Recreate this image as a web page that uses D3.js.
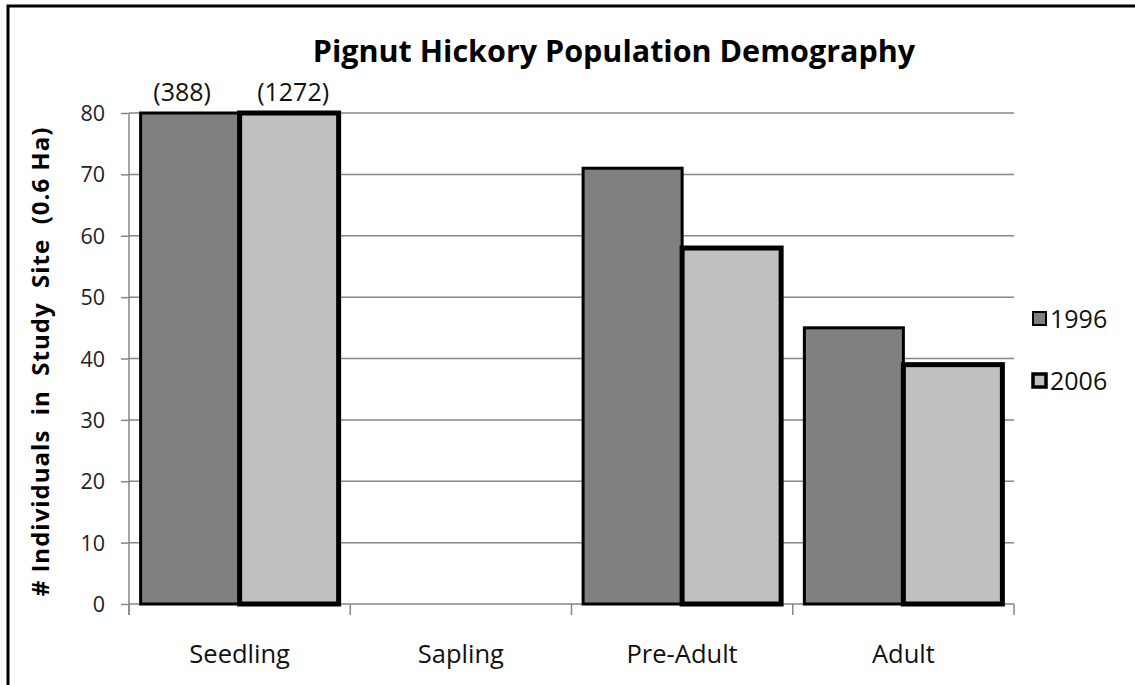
<!DOCTYPE html>
<html>
<head>
<meta charset="utf-8">
<script src="https://cdn.jsdelivr.net/npm/d3@7"></script>
<style>
  html, body { margin: 0; padding: 0; background: #fff; }
  svg { display: block; }
  text { font-family: "Open Sans", "Noto Sans", sans-serif; }
</style>
</head>
<body>
<svg id="chart" width="1135" height="685"></svg>
<script>
const categories = ["Seedling", "Sapling", "Pre-Adult", "Adult"];
const seriesNames = ["1996", "2006"];
const values1996 = [388, 0, 71, 45];
const values2006 = [1272, 0, 58, 39];
const yTicks = [0, 10, 20, 30, 40, 50, 60, 70, 80];
const titleText = "Pignut Hickory Population Demography";
const yLabelText = "# Individuals  in  Study  Site  (0.6 Ha)";

const fills = { "1996": "#808080", "2006": "#c0c0c0" };
const strokeW = { "1996": 3, "2006": 5 };

const svg = d3.select("#chart");
const plot = { left: 129, right: 1014, top: 113, bottom: 604 };
const yMax = 80;

// outer frame (top and left edges visible)
svg.append("rect")
  .attr("x", 8).attr("y", 6).attr("width", 1300).attr("height", 900)
  .attr("fill", "none").attr("stroke", "#000").attr("stroke-width", 3);

const y = d3.scaleLinear().domain([0, yMax]).range([plot.bottom, plot.top]);
const x0 = d3.scaleBand().domain(categories).range([plot.left, plot.right])
  .paddingInner(0.105).paddingOuter(0.0525);
const x1 = d3.scaleBand().domain(seriesNames).range([0, x0.bandwidth()]).padding(0);

// gridlines
svg.append("g").selectAll("line").data(yTicks.filter(d => d > 0)).join("line")
  .attr("x1", plot.left).attr("x2", plot.right)
  .attr("y1", d => y(d)).attr("y2", d => y(d))
  .attr("stroke", "#868686").attr("stroke-width", 1.5);

// y axis
const yAxis = d3.axisLeft(y).tickValues(yTicks).tickSize(8).tickPadding(16);
const gy = svg.append("g").attr("transform", `translate(${plot.left},0)`).call(yAxis);
gy.select(".domain").remove();
gy.selectAll(".tick line").attr("stroke", "#868686").attr("stroke-width", 1.5);
gy.selectAll(".tick text").attr("font-size", 21.5).attr("fill", "#222")
  .attr("font-family", "'Open Sans', sans-serif").attr("dy", "0.35em");
gy.append("line").attr("x1", 0).attr("x2", 0).attr("y1", plot.top).attr("y2", plot.bottom + 11)
  .attr("stroke", "#868686").attr("stroke-width", 1.5);

// x axis
const step = x0.step();
const gx = svg.append("g");
gx.append("line").attr("x1", plot.left).attr("x2", plot.right)
  .attr("y1", plot.bottom).attr("y2", plot.bottom)
  .attr("stroke", "#868686").attr("stroke-width", 1.5);
gx.selectAll("line.cat").data(d3.range(categories.length + 1)).join("line")
  .attr("class", "cat")
  .attr("x1", i => plot.left + i * step).attr("x2", i => plot.left + i * step)
  .attr("y1", plot.bottom).attr("y2", plot.bottom + 11)
  .attr("stroke", "#868686").attr("stroke-width", 1.5);
gx.selectAll("text").data(categories).join("text")
  .attr("x", d => x0(d) + x0.bandwidth() / 2)
  .attr("y", 663)
  .attr("text-anchor", "middle")
  .attr("font-size", 25.5).attr("fill", "#111")
  .text(d => d);

// bars
const data = categories.map((c, i) => ({ cat: c, vals: [
  { s: "1996", v: values1996[i] }, { s: "2006", v: values2006[i] } ] }));

seriesNames.forEach((s, si) => {
  const g = svg.append("g");
  const rows = data.map(d => ({ cat: d.cat, v: d.vals[si].v })).filter(d => d.v > 0);
  g.selectAll("rect").data(rows).join("rect")
    .attr("x", d => x0(d.cat) + x1(s))
    .attr("y", d => y(Math.min(d.v, yMax)))
    .attr("width", x1.bandwidth())
    .attr("height", d => y(0) - y(Math.min(d.v, yMax)))
    .attr("fill", fills[s])
    .attr("stroke", "#000").attr("stroke-width", strokeW[s]);
  // overflow labels
  g.selectAll("text").data(rows.filter(d => d.v > yMax)).join("text")
    .attr("x", d => x0(d.cat) + x1(s) + x1.bandwidth() / 2 + (si === 0 ? -8 : 4))
    .attr("y", y(yMax) - 12)
    .attr("text-anchor", "middle")
    .attr("font-size", 25).attr("fill", "#111")
    .text(d => `(${d.v})`);
});

// title
svg.append("text")
  .attr("x", 614).attr("y", 62)
  .attr("text-anchor", "middle")
  .attr("font-size", 30.5).attr("font-weight", "bold").attr("fill", "#000")
  .text(titleText);

// y label
svg.append("text")
  .attr("transform", `translate(49,${(plot.top + plot.bottom) / 2 + 3}) rotate(-90)`)
  .attr("text-anchor", "middle")
  .attr("font-size", 24).attr("font-weight", "bold").attr("fill", "#000")
  .attr("letter-spacing", 1)
  .style("white-space", "pre")
  .text(yLabelText);

// legend
const leg = svg.append("g");
const legY = [319, 381];
seriesNames.forEach((s, i) => {
  leg.append("rect")
    .attr("x", 1033).attr("y", legY[i] - 7).attr("width", 13).attr("height", 13)
    .attr("fill", fills[s]).attr("stroke", "#000").attr("stroke-width", i === 0 ? 2 : 3.5);
  leg.append("text")
    .attr("x", 1050).attr("y", legY[i]).attr("dy", "0.35em")
    .attr("font-size", 25).attr("fill", "#111")
    .text(s);
});
</script>
</body>
</html>
